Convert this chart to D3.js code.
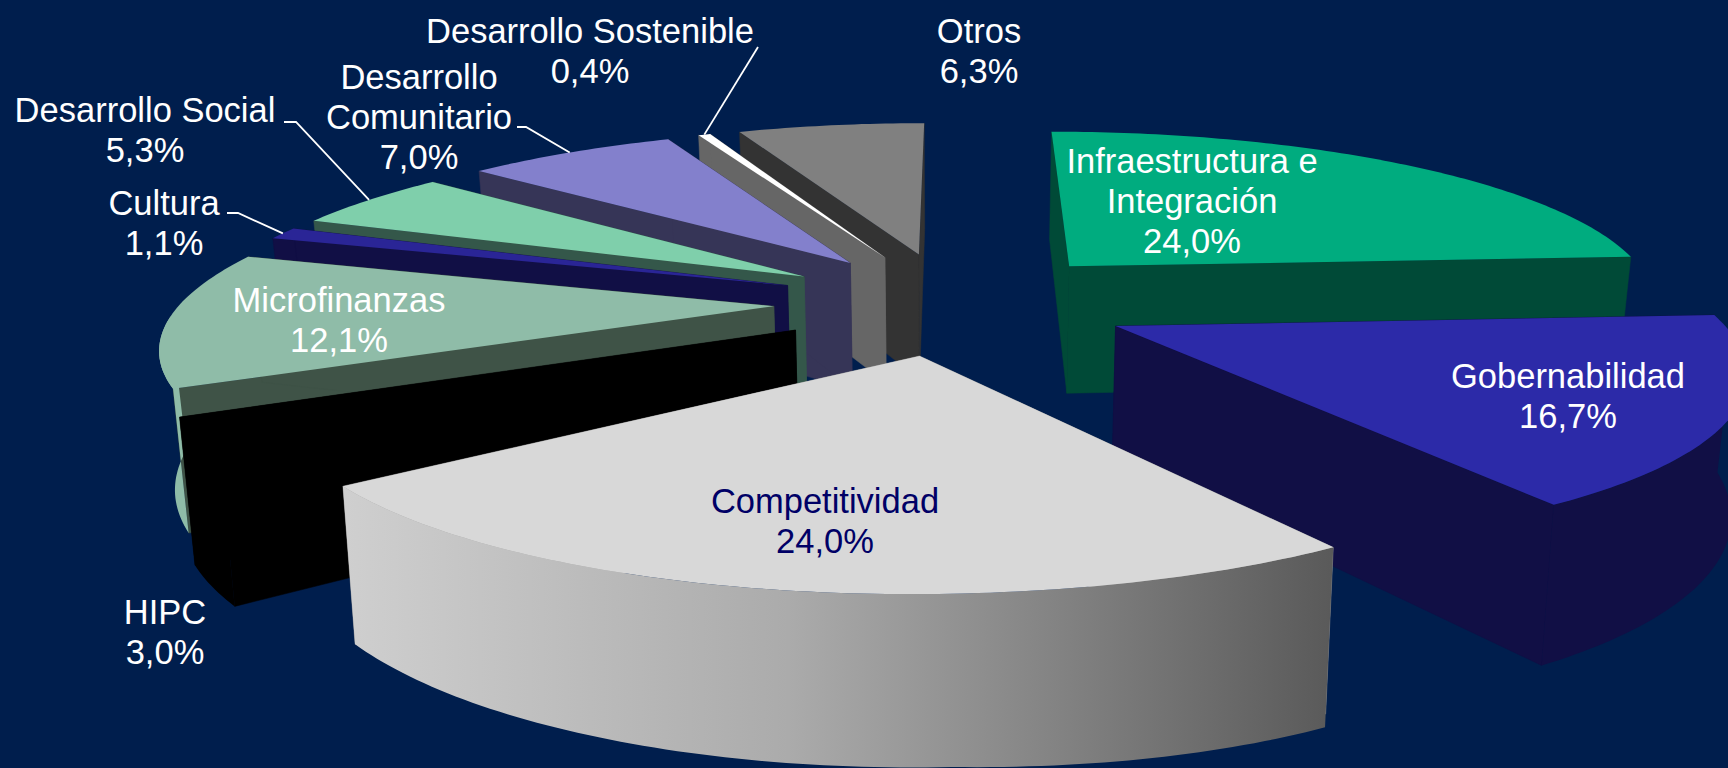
<!DOCTYPE html>
<html lang="es">
<head>
<meta charset="utf-8">
<style>
  html, body { margin: 0; padding: 0; background: #001e4d; overflow: hidden; }
  svg { display: block; }
  text { font-family: "Liberation Sans", Arial, sans-serif; font-size: 34.5px; text-anchor: middle; dominant-baseline: central; }
</style>
<script src="https://cdn.jsdelivr.net/npm/d3@7/dist/d3.min.js"></script>
</head>
<body>
<svg id="chart" width="1728" height="768"></svg>
<script>
// Reparto por sector, en sentido horario desde las doce
const sectors = ["Infraestructura e Integración", "Gobernabilidad", "Competitividad", "HIPC", "Microfinanzas",
                 "Cultura", "Desarrollo Social", "Desarrollo Comunitario", "Desarrollo Sostenible", "Otros"];
const shares = [24.0, 16.7, 24.0, 3.0, 12.1, 1.1, 5.3, 7.0, 0.4, 6.3];

const labelLines = [
  ["Infraestructura e", "Integración"], ["Gobernabilidad"], ["Competitividad"], ["HIPC"], ["Microfinanzas"],
  ["Cultura"], ["Desarrollo Social"], ["Desarrollo", "Comunitario"], ["Desarrollo Sostenible"], ["Otros"]
];

// Estilo de cada porción
const topColors  = ["#00ac7f", "#2c2aa8", "#d8d8d8", "#000000", "#8fbca8", "#2a2596", "#7fcfab", "#8380cc", "#ffffff", "#808080"];
const wallColors = ["#004a37", "#110f45", "#999999", "#000000", "#3f5347", "#110f45", "#34574a", "#363557", "#666666", "#333333"];
const rimColors  = ["#004a37", "#110f45", "url(#rimShade)", "#000000", "#8fbca8", "#110f45", "#34574a", "#363557", "#666666", "#333333"];
const rimLean    = [0, 0, 0.16, 0, 0, 0, 0, 0, 0, 0];
const labelColors = shares.map((_, i) => i === 2 ? "#000066" : "#ffffff");

// Posición de las etiquetas: centro horizontal y centro de la primera línea
const labelX = [1192, 1568, 825, 165, 339, 164, 145, 419, 590, 979];
const labelY = [161, 376, 501, 612, 300, 203, 110, 77, 31, 31];
const lineGap = 40;
// Codo de las líneas guía: [inicio, fin del tramo horizontal, y]
const leaders = { 5: [227, 238, 213], 6: [284, 296, 122], 7: [517, 526, 127], 8: [758, 758, 47] };

// Proyección en perspectiva del plano de la torta
const view = { cx: 952, cy: 302.4, ax: 593, by: 171.5, persp: 0.184, depth: 132, taper: 0.02 };
const explode = 0.3;
const startDeg = 0;

function project(x, y, z) {
  const w = 1 / (1 - view.persp * y);
  // La lente abre algo más el lado cercano y el fondo izquierdo
  const near = Math.max(y, 0), far = Math.min(y, 0);
  const spread = x > 0 ? 1 + 0.02 * near : 1 + 0.008 * near + 0.012 * far;
  return [view.cx + view.ax * w * x * spread * (1 - view.taper * z), view.cy + view.by * w * y + view.depth * w * z];
}

const pie = d3.pie().value(d => d).sort(null)
  .startAngle(startDeg * Math.PI / 180)
  .endAngle((startDeg + 360) * Math.PI / 180);

const slices = pie(shares).map((d, i) => {
  const mid = (d.startAngle + d.endAngle) / 2;
  const ox = explode * Math.sin(mid), oy = -explode * Math.cos(mid);
  const steps = d3.range(0, 1.0001, 1 / Math.max(2, Math.ceil((d.endAngle - d.startAngle) * 60)));
  const angles = steps.map(t => d.startAngle + t * (d.endAngle - d.startAngle));
  const rim = angles.map(a => [ox + Math.sin(a), oy - Math.cos(a)]);
  // Solo la parte del borde curvo orientada hacia el observador
  const front = angles.filter(a => -Math.cos(a) >= 0.05).map(a => [ox + Math.sin(a), oy - Math.cos(a)]);
  return { i, mid, ox, oy, rim, front };
});

const svg = d3.select("#chart");
const grad = svg.append("defs").append("linearGradient")
  .attr("id", "rimShade").attr("gradientUnits", "userSpaceOnUse")
  .attr("x1", 345).attr("x2", 1330).attr("y1", 0).attr("y2", 0);
grad.append("stop").attr("offset", 0).attr("stop-color", "#cfcfcf");
grad.append("stop").attr("offset", 0.45).attr("stop-color", "#ababab");
grad.append("stop").attr("offset", 1).attr("stop-color", "#5a5a5a");

const outline = d3.line().curve(d3.curveLinearClosed);

// Orden de pintado: de las porciones del fondo a la más cercana
const paintOrder = [9, 8, 7, 6, 5, 4, 3, 0, 1, 2];
paintOrder.forEach(k => {
  const s = slices[k];
  const g = svg.append("g").attr("class", "slice");
  const first = s.rim[0], last = s.rim[s.rim.length - 1];
  const wall = p => [project(s.ox, s.oy, 0), project(p[0], p[1], 0), project(p[0], p[1], 1), project(s.ox, s.oy, 1)];
  [first, last].forEach(p => g.append("path").attr("d", outline(wall(p)))
    .attr("fill", wallColors[k]).attr("stroke", wallColors[k]).attr("stroke-width", 0.5));
  if (s.front.length > 1) {
    const low = p => project(p[0], p[1], 1 + rimLean[k] * Math.max(p[0], 0));
    const band = s.front.map(p => project(p[0], p[1], 0)).concat(s.front.slice().reverse().map(low));
    g.append("path").attr("d", outline(band)).attr("fill", rimColors[k]);
  }
  const top = [project(s.ox, s.oy, 0)].concat(s.rim.map(p => project(p[0], p[1], 0)));
  g.append("path").attr("d", outline(top)).attr("fill", topColors[k]);
});

// Líneas guía hasta el borde de la porción
Object.keys(leaders).forEach(key => {
  const k = +key, s = slices[k], e = leaders[k];
  const tip = project(s.ox + Math.sin(s.mid), s.oy - Math.cos(s.mid), 0);
  svg.append("path").attr("fill", "none").attr("stroke", "#fff").attr("stroke-width", 1.8)
    .attr("d", d3.line()([[e[0], e[2]], [e[1], e[2]], tip]));
});

// Rótulos: nombre y porcentaje con coma decimal
const pct = d3.formatLocale({ decimal: ",", thousands: ".", grouping: [3], currency: ["", ""] }).format(".1f");
shares.forEach((v, i) => {
  const lines = labelLines[i].concat(pct(v) + "%");
  const t = svg.append("text").attr("fill", labelColors[i]);
  lines.forEach((l, n) => t.append("tspan").attr("x", labelX[i]).attr("y", labelY[i] + n * lineGap).text(l));
});
</script>
</body>
</html>
